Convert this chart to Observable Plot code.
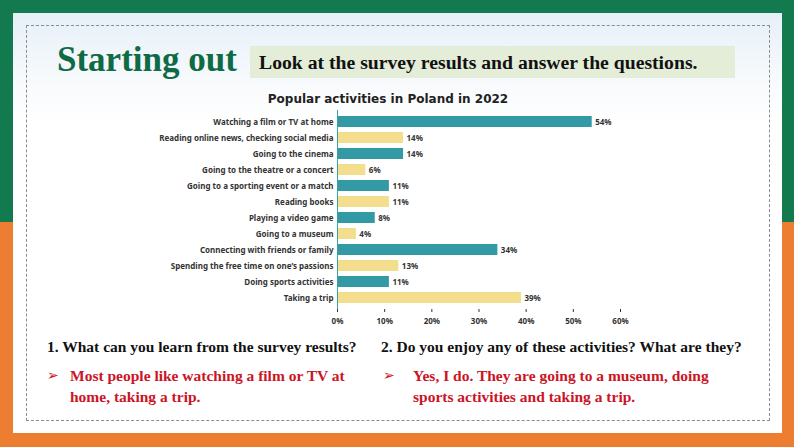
<!DOCTYPE html>
<html>
<head>
<meta charset="utf-8">
<script src="https://cdn.jsdelivr.net/npm/d3@7"></script>
<script src="https://cdn.jsdelivr.net/npm/@observablehq/plot@0.6"></script>
<style>
  html, body { margin: 0; padding: 0; }
  body { width: 794px; height: 447px; position: relative; overflow: hidden;
         background: linear-gradient(to bottom, #137a4f 0, #137a4f 222px, #ec7d31 222px, #ec7d31 447px); }
  #panel { position: absolute; left: 13px; top: 13px; width: 769px; height: 420px;
           background: linear-gradient(to bottom, #e6eff8 0px, #f6f9fc 60px, #ffffff 110px); }
  #dash { position: absolute; left: 26px; top: 25px; width: 744px; height: 396px;
          border: 1px dashed #8c8c8c; box-sizing: border-box; }
  .abs { position: absolute; white-space: nowrap; }
  #title { left: 57px; top: 40px; font: bold 35px "Liberation Serif", "Times New Roman", serif; color: #0e6b45; }
  #instr { left: 250px; top: 46px; width: 485px; height: 32px; background: #e3edd7;
           font: bold 19.7px "Liberation Serif", serif; color: #111; line-height: 32px; padding-left: 9px; box-sizing: border-box; }
  #ctitle { left: 0; width: 776px; text-align: center; top: 92px; font: bold 12px "DejaVu Sans", Verdana, sans-serif; color: #222; }
  #chart { left: 100px; top: 105px; }
  .q { font: bold 15.5px "Liberation Serif", serif; color: #111; }
  .a { font: bold 15.5px "Liberation Serif", serif; color: #cc1426; line-height: 21px; white-space: normal; }
  .arrow { font: 14px "DejaVu Sans", sans-serif; color: #cc1426; }
</style>
</head>
<body>
<div id="panel"></div>
<div id="dash"></div>
<div class="abs" id="title">Starting out</div>
<div class="abs" id="instr">Look at the survey results and answer the questions.</div>
<div class="abs" id="ctitle">Popular activities in Poland in 2022</div>
<div class="abs" id="chart"></div>
<div class="abs q" style="left:47px; top:338px;">1. What can you learn from the survey results?</div>
<div class="abs q" style="left:381px; top:338px;">2. Do you enjoy any of these activities? What are they?</div>
<div class="abs arrow" style="left:47px; top:367px;">➢</div>
<div class="abs a" style="left:70px; top:365px; width:290px;">Most people like watching a film or TV at home, taking a trip.</div>
<div class="abs arrow" style="left:383px; top:367px;">➢</div>
<div class="abs a" style="left:413px; top:365px; width:300px;">Yes, I do. They are going to a museum, doing sports activities and taking a trip.</div>
<script>
const activities = [
  "Watching a film or TV at home",
  "Reading online news, checking social media",
  "Going to the cinema",
  "Going to the theatre or a concert",
  "Going to a sporting event or a match",
  "Reading books",
  "Playing a video game",
  "Going to a museum",
  "Connecting with friends or family",
  "Spending the free time on one\u2019s passions",
  "Doing sports activities",
  "Taking a trip"
];
const percents = [54, 14, 14, 6, 11, 11, 8, 4, 34, 13, 11, 39];
const groups = ["odd", "even", "odd", "even", "odd", "even", "odd", "even", "odd", "even", "odd", "even"];
const xTicks = [0, 10, 20, 30, 40, 50, 60];

const data = activities.map((a, i) => ({activity: a, value: percents[i], group: groups[i]}));

const chart = Plot.plot({
  width: 540,
  height: 225,
  marginLeft: 237,
  marginRight: 20,
  marginTop: 5,
  marginBottom: 21,
  style: {fontFamily: "'Noto Sans', 'Open Sans', sans-serif", fontSize: "8px", fontWeight: "bold", color: "#333", background: "transparent"},
  x: {domain: [0, 60], ticks: xTicks, tickFormat: d => d + "%", tickSize: 3, label: null},
  y: {domain: activities, paddingInner: 0.34, paddingOuter: 0.17, label: null, tickSize: 0, tickPadding: 4},
  color: {domain: ["odd", "even"], range: ["#3399a5", "#f2de8c"]},
  marks: [
    Plot.barX(data, {x: "value", y: "activity", fill: "group"}),
    Plot.ruleX([0], {stroke: "#3a9fa8", strokeWidth: 1}),
    Plot.text(data, {x: "value", y: "activity", text: d => d.value + "%", textAnchor: "start", dx: 3, fill: "#333", fontSize: 8, fontWeight: "bold"})
  ]
});
document.getElementById("chart").appendChild(chart);
</script>
</body>
</html>
